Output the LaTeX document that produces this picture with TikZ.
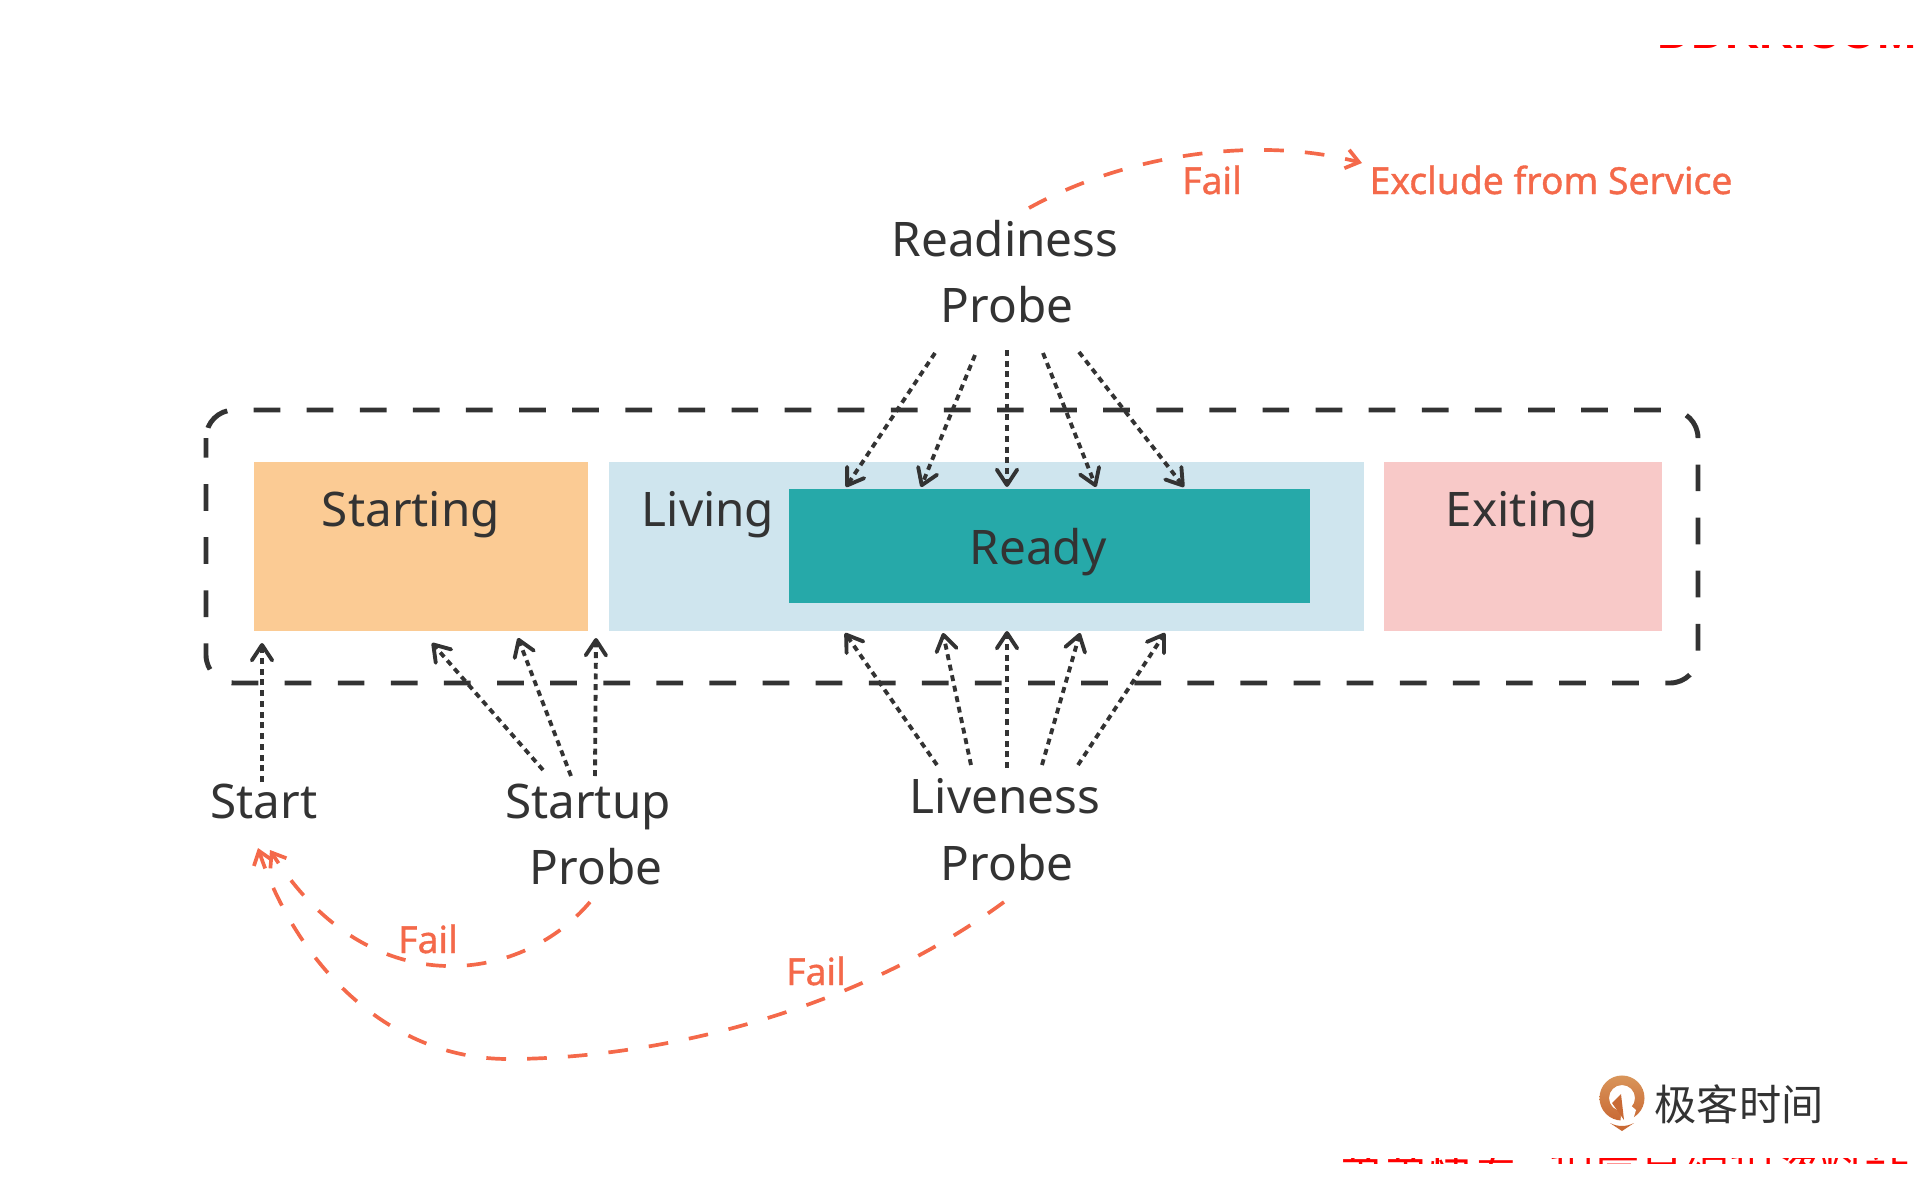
\documentclass[tikz,border=0pt]{standalone}
\usepackage{fontspec}
\usepackage{xcolor}
\usetikzlibrary{arrows.meta}
\setmainfont{Noto Sans}
\newfontfamily\cjkfont{Noto Sans CJK SC}
\newfontfamily\redfont{Liberation Sans}
\newfontfamily\failfont[FakeBold=1]{Noto Sans}

\definecolor{startingcol}{HTML}{FBCB94}
\definecolor{livingcol}{HTML}{CFE5EE}
\definecolor{readycol}{HTML}{26A9A9}
\definecolor{exitingcol}{HTML}{F8C9C8}
\definecolor{failcol}{HTML}{F4694A}
\definecolor{inkcol}{HTML}{333333}
\definecolor{logotop}{HTML}{D9955A}
\definecolor{logobottom}{HTML}{C96A35}

\tikzset{
  phasebox/.style={draw=none, inner sep=0, anchor=north west},
  biglabel/.style={text=inkcol, anchor=base, inner sep=0, font=\fontsize{13.55}{16}\selectfont},
  faillabel/.style={text=failcol, anchor=base, inner sep=0, font=\failfont\fontsize{10.6}{12}\selectfont},
  probearrow/.style={draw=inkcol, line width=1.1pt, dash pattern=on 1.7pt off 1.35pt,
    -{Straight Barb[length=4.4pt, width=5.8pt, line width=1.1pt, round]}},
  failarrow/.style={draw=failcol, line width=1.05pt, dash pattern=on 5.6pt off 6pt,
    -{Straight Barb[length=3.6pt, width=5.4pt, line width=1.05pt]}}
}

\begin{document}
\begin{tikzpicture}[x=0.01cm, y=-0.01cm]
  \useasboundingbox (0,0) rectangle (1920,1200);

  % Clipped watermark lines
  \begin{scope}
    \clip (1600,45) rectangle (1920,49);
    \node[anchor=base west, inner sep=0, text=red, font=\redfont\bfseries\fontsize{13.4}{16}\selectfont] (wmtop) at (1657,48) {DDKK.COM};
  \end{scope}
  \begin{scope}
    \clip (1300,1158) rectangle (1920,1163);
    \node[anchor=north west, inner sep=0, text=red, font=\cjkfont\fontsize{12.8}{14}\selectfont] (wmbottom) at (1338,1152) {弟弟快看\,-\,程序员编程资料站};
  \end{scope}

  % The phases
  \node[phasebox, fill=startingcol, minimum width=3.34cm, minimum height=1.69cm] (starting) at (253,461) {};
  \node[phasebox, fill=livingcol, minimum width=7.55cm, minimum height=1.69cm] (living) at (608,461) {};
  \node[phasebox, fill=readycol, minimum width=5.21cm, minimum height=1.14cm] (ready) at (788,488) {};
  \node[phasebox, fill=exitingcol, minimum width=2.78cm, minimum height=1.69cm] (exiting) at (1383,461) {};
  \draw[draw=inkcol, line width=1.4pt, rounded corners=0.28cm, dash pattern=on 7.6pt off 7.5pt, dash phase=2pt] (206,410) rectangle (1698,683);

  \node[biglabel] (startinglabel) at (411,526) {Starting};
  \node[biglabel] (livinglabel) at (708,526) {Living};
  \node[biglabel] (readylabel) at (1038,564) {Ready};
  \node[biglabel] (exitinglabel) at (1522,526) {Exiting};

  % Probe names
  \node[biglabel] (readiness) at (1005,256) {Readiness};
  \node[biglabel] (readinessprobe) at (1007,322) {Probe};
  \node[biglabel] (start) at (264,818) {Start};
  \node[biglabel] (startup) at (588,818) {Startup};
  \node[biglabel] (startupprobe) at (596,884) {Probe};
  \node[biglabel] (liveness) at (1005,813) {Liveness};
  \node[biglabel] (livenessprobe) at (1007,880) {Probe};

  \node[faillabel] (failready) at (1212,194) {Fail};
  \node[faillabel] (exclude) at (1551,194) {Exclude from Service};
  \node[faillabel] (failstartup) at (428,953) {Fail};
  \node[faillabel] (failliveness) at (816,985) {Fail};

  % Ends of the dotted arrows
  \coordinate (rs1) at (935,353);
  \coordinate (rs2) at (975,355);
  \coordinate (rs3) at (1007,350);
  \coordinate (rs4) at (1043,353);
  \coordinate (rs5) at (1079,352);
  \coordinate (re1) at (846,487);
  \coordinate (re2) at (921,487);
  \coordinate (re3) at (1007,487);
  \coordinate (re4) at (1096,487);
  \coordinate (re5) at (1184,487);

  \coordinate (ls1) at (937,765);
  \coordinate (ls2) at (971,765);
  \coordinate (ls3) at (1007,768);
  \coordinate (ls4) at (1042,765);
  \coordinate (ls5) at (1078,765);
  \coordinate (le1) at (845,633);
  \coordinate (le2) at (943,633);
  \coordinate (le3) at (1007,631);
  \coordinate (le4) at (1080,633);
  \coordinate (le5) at (1165,633);

  \coordinate (ss0) at (262,782);
  \coordinate (se0) at (262,643);
  \coordinate (ss1) at (543,770);
  \coordinate (se1) at (432,643);
  \coordinate (ss2) at (571,776);
  \coordinate (se2) at (518,638);
  \coordinate (ss3) at (595,776);
  \coordinate (se3) at (596,638);

  \draw[probearrow] (rs1) -- (re1);
  \draw[probearrow] (rs2) -- (re2);
  \draw[probearrow] (rs3) -- (re3);
  \draw[probearrow] (rs4) -- (re4);
  \draw[probearrow] (rs5) -- (re5);

  \draw[probearrow] (ls1) -- (le1);
  \draw[probearrow] (ls2) -- (le2);
  \draw[probearrow] (ls3) -- (le3);
  \draw[probearrow] (ls4) -- (le4);
  \draw[probearrow] (ls5) -- (le5);

  \draw[probearrow] (ss0) -- (se0);
  \draw[probearrow] (ss1) -- (se1);
  \draw[probearrow] (ss2) -- (se2);
  \draw[probearrow] (ss3) -- (se3);

  % Failure paths
  \coordinate (fr1) at (1029,208);
  \coordinate (fr2) at (1362,163);
  \coordinate (fs1) at (590,902);
  \coordinate (fs2) at (270,850);
  \coordinate (fl1) at (1004,902);
  \coordinate (flm) at (508,1059);
  \coordinate (fl2) at (258,848);
  \draw[failarrow] (fr1) .. controls (1125,155) and (1255,135) .. (fr2);
  \draw[failarrow] (fs1) .. controls (520,985) and (368,1005) .. (fs2);
  \draw[failarrow] (fl1) .. controls (850,1015) and (650,1059) .. (flm) .. controls (385,1059) and (295,960) .. (fl2);

  % Logo
  \shade[top color=logotop, bottom color=logobottom, even odd rule]
    (1622,1098) circle (0.225cm) (1622,1098) circle (0.13cm);
  \fill[white] (1622,1098) -- (1620,1130) -- (1630,1130) -- (1636,1110) -- cycle;
  \fill[logobottom] (1621,1094) -- (1624,1120) -- (1612,1103) -- cycle;
  \fill[logobottom] (1610,1123) .. controls (1618,1127) and (1626,1127) .. (1634,1123) -- (1622,1131) -- cycle;
  \node[inner sep=0, text=inkcol, font=\cjkfont\fontsize{12}{14}\selectfont] (logotext) at (1739,1104) {极客时间};
\end{tikzpicture}
\end{document}
